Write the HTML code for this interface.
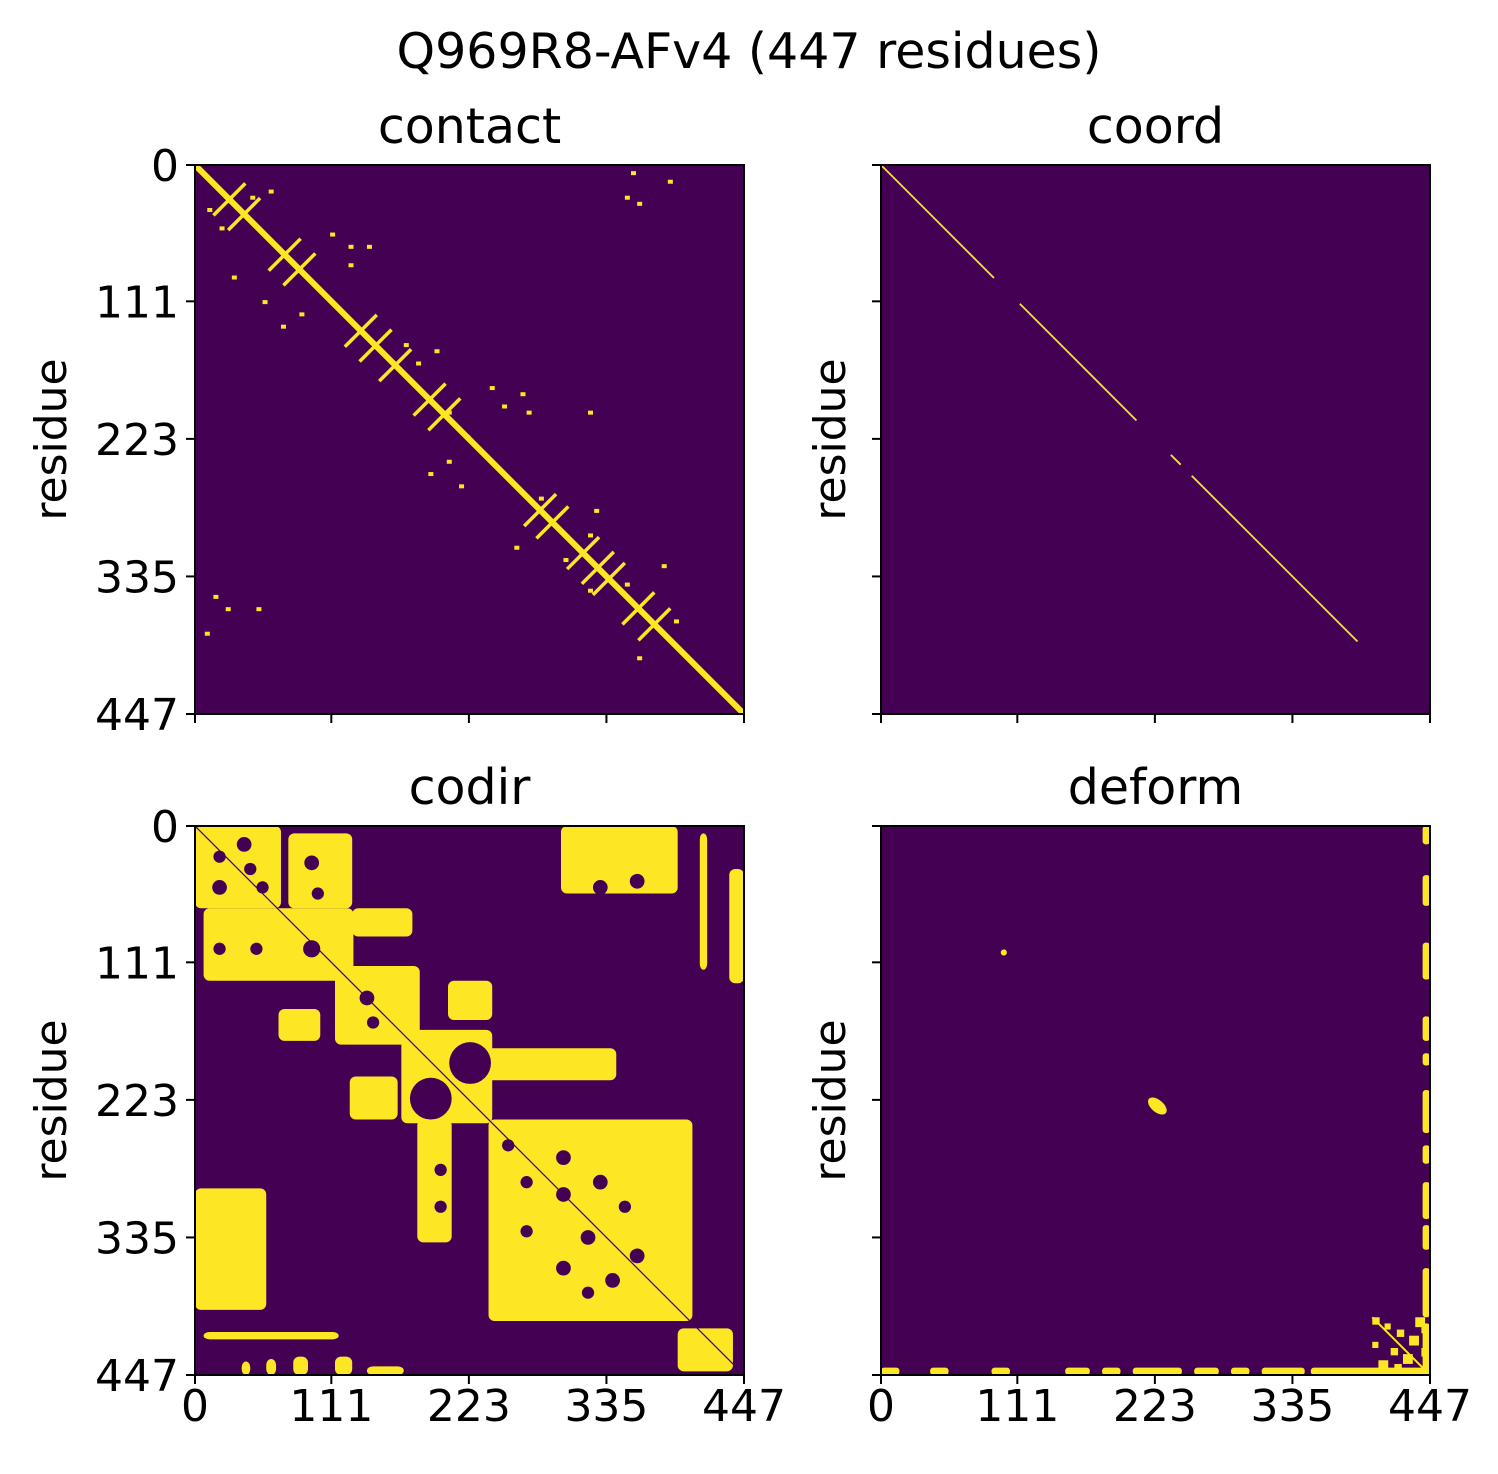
<!DOCTYPE html>
<html><head><meta charset="utf-8"><style>
html,body{margin:0;padding:0;background:#fff;}
svg{display:block;font-family:"DejaVu Sans","Liberation Sans",sans-serif;}
</style></head><body>
<svg id="fig" width="1498" height="1474" viewBox="0 0 1498 1474" xmlns="http://www.w3.org/2000/svg">
<text x="749" y="68" font-size="49" text-anchor="middle">Q969R8-AFv4 (447 residues)</text>
<g id="root"></g>
</svg>
<script>
// ---- data (residue units) ----
const N = 447;
const tickValues = [0, 111, 223, 335, 447];
const tickLabels = ["0", "111", "223", "335", "447"];
const panelTitles = ["contact", "coord", "codir", "deform"];
// contact: helix crosses along diagonal
const contactCrosses = [28, 40, 73, 85, 135, 147, 163, 191, 203, 281, 291, 316, 328, 337, 361, 374];
// contact: off-diagonal contact points [row, col]
const contactPoints = [[5,355],[12,385],[20,60],[25,45],[25,350],[30,360],[35,10],[50,20],[55,110],[65,125],[65,140],[80,125],[90,30],[110,55],[120,85],[130,70],[145,170],[150,195],[160,180],[180,240],[185,265],[195,250],[200,205],[200,270],[200,320],[220,220],[240,205],[250,190],[260,215],[270,280],[280,325],[300,320],[310,260],[320,300],[325,380],[340,350],[345,320],[350,15],[360,25],[360,50],[380,8],[370,390],[400,360]];
// coord: diagonal segments [start, end]
const coordSegments = [[0, 92], [113, 208], [236, 244], [253, 388]];
// codir: yellow blocks [r0, r1, c0, c1]
const codirBlocks = [[0,67,0,70],[6,67,76,128],[67,126,7,129],[67,90,128,177],[114,178,114,183],[149,175,68,102],[166,242,168,242],[181,207,236,343],[204,239,126,165],[239,339,181,209],[239,403,239,405],[409,444,393,438],[0,55,298,393],[295,394,0,58],[412,418,7,117],[35,128,435,447],[126,158,206,242],[6,117,411,417],[436,447,38,45],[434,447,58,66],[432,447,80,92],[432,447,114,128],[440,447,140,170]];
// codir: purple holes [row, col, radius]
const codirHoles = [[15,40,6],[25,20,5],[35,45,5],[50,20,6],[50,55,5],[30,95,6],[55,100,5],[100,20,5],[100,50,5],[100,95,7],[140,140,6],[160,145,5],[193,224,17],[222,192,17],[260,255,5],[270,300,6],[290,270,5],[290,330,6],[300,300,6],[310,350,5],[330,270,5],[335,320,6],[350,360,6],[360,300,6],[370,340,6],[380,320,5],[280,200,5],[310,200,5],[50,330,6],[45,360,6]];
// deform: edge blobs (rows along right edge, cols along bottom edge) [start, end]
const deformRight = [[0,15],[40,65],[95,125],[155,175],[185,195],[215,250],[260,275],[290,320],[325,345],[360,400],[405,447]];
const deformBottom = [[0,15],[40,55],[90,105],[150,170],[180,195],[205,245],[255,275],[285,300],[310,345],[350,447]];
// deform: bottom-right cluster cells [row, col, size]
const deformCluster = [[400,400,6],[405,410,5],[410,420,6],[415,430,8],[400,435,8],[420,400,5],[425,415,6],[430,425,8],[425,440,7],[435,405,8],[438,418,6],[408,440,5]];
const deformRings = [[103, 100, 2.5, 2.5], [228, 225, 9, 5]];

const Y = "#fde725", P = "#440154";
const NS = "http://www.w3.org/2000/svg";
const root = document.getElementById('root');
const panels = [{x:195,y:165},{x:881,y:165},{x:195,y:826},{x:881,y:826}];
const S = 549;
function mk(tag, attrs, parent){const e=document.createElementNS(NS,tag);for(const k in attrs)e.setAttribute(k,attrs[k]);parent.appendChild(e);return e;}

panels.forEach((p, i) => {
  const g = mk('g', {}, root);
  
  
  const sx = v => p.x + v / N * S;
  const sy = v => p.y + v / N * S;
  const bg = mk('rect', {x:p.x, y:p.y, width:S, height:S, fill:P}, g);
  
  
  const clipId = 'c' + i;
  const cp = mk('clipPath', {id:clipId}, g);
  mk('rect', {x:p.x, y:p.y, width:S, height:S}, cp);
  const h = mk('g', {'clip-path':'url(#' + clipId + ')'}, g);
  if (i === 0) {
    mk('line', {x1:sx(0), y1:sy(0), x2:sx(N), y2:sy(N), stroke:Y, 'stroke-width':6}, h);
    contactCrosses.forEach(d => {
      const l = mk('line', {x1:sx(d-13), y1:sy(d+13), x2:sx(d+13), y2:sy(d-13), stroke:Y, 'stroke-width':3.5}, h);
      
      
    });
    contactPoints.forEach(pt => {
      const r = mk('rect', {x:sx(pt[1]), y:sy(pt[0]), width:5, height:4, fill:Y}, h);
      
      
    });
  } else if (i === 1) {
    coordSegments.forEach(s => {
      const l = mk('line', {x1:sx(s[0]), y1:sy(s[0]), x2:sx(s[1]), y2:sy(s[1]), stroke:Y, 'stroke-width':1.8}, h);
      
      
    });
  } else if (i === 2) {
    codirBlocks.forEach(b => {
      const r = mk('rect', {x:sx(b[2]), y:sy(b[0]), width:sx(b[3])-sx(b[2]), height:sy(b[1])-sy(b[0]), fill:Y, rx:6}, h);
      
      
    });
    codirHoles.forEach(c => {
      const e = mk('ellipse', {cx:sx(c[1]), cy:sy(c[0]), rx:c[2]*S/N, ry:c[2]*S/N, fill:P}, h);
      
      
    });
    mk('line', {x1:sx(0), y1:sy(0), x2:sx(N), y2:sy(N), stroke:P, 'stroke-width':1.2}, h);
  } else {
    deformRight.forEach(s => {
      const r = mk('rect', {x:sx(441), y:sy(s[0]), width:sx(N)-sx(441), height:sy(s[1])-sy(s[0]), fill:Y, rx:3}, h);
      
      
    });
    deformBottom.forEach(s => {
      const r = mk('rect', {x:sx(s[0]), y:sy(441), width:sx(s[1])-sx(s[0]), height:sy(N)-sy(441), fill:Y, rx:3}, h);
      
      
    });
    deformCluster.forEach(c => {
      const r = mk('rect', {x:sx(c[1]), y:sy(c[0]), width:c[2]*S/N, height:c[2]*S/N, fill:Y}, h);
      
      
    });
    mk('line', {x1:sx(400), y1:sy(400), x2:sx(N), y2:sy(N), stroke:Y, 'stroke-width':2}, h);
    deformRings.forEach(c => {
      const e = mk('ellipse', {cx:sx(c[1]), cy:sy(c[0]), rx:c[2]*S/N, ry:c[3]*S/N, fill:Y, transform:'rotate(40 ' + sx(c[1]) + ' ' + sy(c[0]) + ')'}, h);
      
      
    });
  }
  mk('rect', {x:p.x, y:p.y, width:S, height:S, fill:'none', stroke:'#000', 'stroke-width':2}, g);
  const t = mk('text', {x:p.x+S/2, y:p.y-22, 'font-size':49, 'text-anchor':'middle'}, g);
  t.textContent = panelTitles[i];
  
  
  tickValues.forEach((v, k) => {
    mk('line', {x1:p.x-9, y1:sy(v), x2:p.x, y2:sy(v), stroke:'#000', 'stroke-width':2}, g);
    mk('line', {x1:sx(v), y1:p.y+S, x2:sx(v), y2:p.y+S+9, stroke:'#000', 'stroke-width':2}, g);
    if (i % 2 === 0) {
      const lt = mk('text', {x:p.x-16, y:sy(v)+16, 'font-size':44, 'text-anchor':'end'}, g);
      lt.textContent = tickLabels[k];
      
      
    }
    if (i >= 2) {
      const bt = mk('text', {x:sx(v), y:p.y+S+46, 'font-size':44, 'text-anchor':'middle'}, g);
      bt.textContent = tickLabels[k];
      
      
    }
  });
  const yl = mk('text', {x:0, y:0, 'font-size':44, 'text-anchor':'middle', transform:'translate(' + (i%2===0 ? 66 : 845) + ',' + (p.y+S/2) + ') rotate(-90)'}, g);
  yl.textContent = 'residue';
  
  
});
</script>
</body></html>
